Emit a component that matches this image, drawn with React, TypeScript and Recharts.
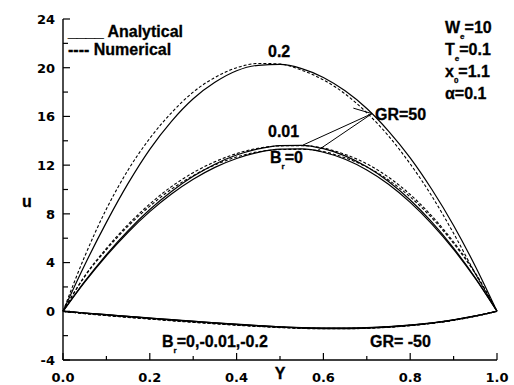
import { LineChart, Line, XAxis, YAxis, ReferenceLine } from "recharts";

// transverse coordinate Y
const yPos = [0, 0.05, 0.1, 0.15, 0.2, 0.25, 0.3, 0.35, 0.4, 0.45, 0.5, 0.55, 0.6, 0.65, 0.7, 0.75, 0.8, 0.85, 0.9, 0.95, 1];

// GR = 50
const gr50Br02Ana = [0, 3.8, 7.3, 10.5, 13.3, 15.6, 17.45, 18.8, 19.75, 20.2, 20.27, 19.93, 19.2, 18.1, 16.65, 14.8, 12.6, 10.0, 7.05, 3.7, 0];
const gr50Br02Num = [0, 4.5, 8.4, 11.6, 14.2, 16.3, 18.0, 19.2, 20.0, 20.35, 20.3, 19.8, 19.0, 17.85, 16.3, 14.4, 12.1, 9.45, 6.4, 3.1, 0];
const gr50Br001Ana = [0, 2.45, 4.66, 6.63, 8.36, 9.84, 11.08, 12.08, 12.83, 13.34, 13.61, 13.63, 13.35, 12.76, 11.86, 10.66, 9.14, 7.32, 5.19, 2.75, 0];
const gr50Br001Num = [0, 2.9, 5.16, 7.13, 8.81, 10.24, 11.38, 12.28, 12.95, 13.39, 13.58, 13.6, 13.4, 12.88, 12.11, 11.01, 9.59, 7.82, 5.69, 3.15, 0];
const gr50Br0Ana = [0, 2.4, 4.56, 6.49, 8.18, 9.63, 10.84, 11.82, 12.55, 13.05, 13.31, 13.33, 13.06, 12.48, 11.6, 10.43, 8.94, 7.16, 5.08, 2.69, 0];
const gr50Br0Num = [0, 2.85, 5.06, 6.99, 8.63, 10.03, 11.14, 12.02, 12.67, 13.1, 13.28, 13.3, 13.11, 12.6, 11.85, 10.78, 9.39, 7.66, 5.58, 3.09, 0];

// GR = -50
const grm50Br0Ana = [0, -0.14, -0.28, -0.42, -0.55, -0.68, -0.81, -0.94, -1.06, -1.17, -1.27, -1.34, -1.38, -1.38, -1.34, -1.26, -1.13, -0.95, -0.7, -0.38, 0];
const grm50Br001Ana = [0, -0.14, -0.28, -0.42, -0.56, -0.69, -0.82, -0.95, -1.07, -1.18, -1.28, -1.35, -1.39, -1.39, -1.35, -1.27, -1.14, -0.96, -0.71, -0.38, 0];
const grm50Br02Ana = [0, -0.15, -0.3, -0.44, -0.58, -0.72, -0.85, -0.98, -1.1, -1.21, -1.31, -1.38, -1.42, -1.42, -1.38, -1.3, -1.16, -0.97, -0.72, -0.39, 0];
const grm50Br0Num = [0, -0.18, -0.33, -0.48, -0.61, -0.74, -0.87, -0.99, -1.11, -1.21, -1.3, -1.37, -1.4, -1.4, -1.36, -1.28, -1.15, -0.97, -0.72, -0.4, 0];
const grm50Br001Num = [0, -0.18, -0.34, -0.49, -0.62, -0.75, -0.88, -1.0, -1.12, -1.22, -1.31, -1.38, -1.41, -1.41, -1.37, -1.29, -1.16, -0.98, -0.73, -0.4, 0];
const grm50Br02Num = [0, -0.19, -0.35, -0.5, -0.64, -0.78, -0.91, -1.03, -1.15, -1.25, -1.34, -1.41, -1.44, -1.44, -1.4, -1.32, -1.18, -0.99, -0.74, -0.41, 0];

const xTicks = [0, 0.1, 0.2, 0.3, 0.4, 0.5, 0.6, 0.7, 0.8, 0.9, 1];
const yTicks = [-4, -2, 0, 2, 4, 6, 8, 10, 12, 14, 16, 18, 20, 22, 24];

const series = [
  { key: "gr50Br02Ana", values: gr50Br02Ana, dashed: false },
  { key: "gr50Br02Num", values: gr50Br02Num, dashed: true },
  { key: "gr50Br001Ana", values: gr50Br001Ana, dashed: false },
  { key: "gr50Br001Num", values: gr50Br001Num, dashed: true },
  { key: "gr50Br0Ana", values: gr50Br0Ana, dashed: false },
  { key: "gr50Br0Num", values: gr50Br0Num, dashed: true },
  { key: "grm50Br0Ana", values: grm50Br0Ana, dashed: false },
  { key: "grm50Br001Ana", values: grm50Br001Ana, dashed: false },
  { key: "grm50Br02Ana", values: grm50Br02Ana, dashed: false },
  { key: "grm50Br0Num", values: grm50Br0Num, dashed: true },
  { key: "grm50Br001Num", values: grm50Br001Num, dashed: true },
  { key: "grm50Br02Num", values: grm50Br02Num, dashed: true },
];

const data = yPos.map((y, i) => {
  const row: Record<string, number> = { y };
  series.forEach((s) => (row[s.key] = s.values[i]));
  return row;
});

const FONT = "'Liberation Sans', Arial, sans-serif";
const TICK_FONT = "'DejaVu Sans', sans-serif";

const isMajorX = (v: number) => Math.round(v * 10) % 2 === 0;
const isMajorY = (v: number) => Math.round(v) % 4 === 0;

function BottomTick({ x, y, payload }: any) {
  const v = payload.value;
  const major = isMajorX(v);
  return (
    <g>
      <line x1={x} x2={x} y1={y} y2={y - (major ? 7 : 4)} stroke="#000" strokeWidth={1.2} />
      {major && (
        <text x={x} y={y + 22} textAnchor="middle" fontFamily={TICK_FONT} fontWeight="bold" fontSize={13} fill="#000">
          {v.toFixed(1)}
        </text>
      )}
    </g>
  );
}

function TopTick({ x, y, payload }: any) {
  const major = isMajorX(payload.value);
  return <line x1={x} x2={x} y1={y} y2={y + (major ? 7 : 4)} stroke="#000" strokeWidth={1.2} />;
}

function LeftTick({ x, y, payload }: any) {
  const v = payload.value;
  const major = isMajorY(v);
  return (
    <g>
      <line x1={x} x2={x + (major ? 7 : 5)} y1={y} y2={y} stroke="#000" strokeWidth={1.2} />
      {major && (
        <text x={x - 8} y={y + 4.8} textAnchor="end" fontFamily={TICK_FONT} fontWeight="bold" fontSize={13} fill="#000">
          {v}
        </text>
      )}
    </g>
  );
}

function RightTick({ x, y, payload }: any) {
  const major = isMajorY(payload.value);
  return <line x1={x} x2={x - (major ? 7 : 5)} y1={y} y2={y} stroke="#000" strokeWidth={1.2} />;
}

const txt = { fontFamily: FONT, fontWeight: 700, fontSize: 16, fill: "#000", stroke: "#000", strokeWidth: 0.3 };

export default function App() {
  return (
    <div style={{ position: "relative", width: 514, height: 385, background: "#fff" }}>
      <style>{"body{margin:0}"}</style>
      <LineChart width={514} height={385} data={data} margin={{ top: 19, right: 17, bottom: 0, left: 13 }}>
        <XAxis
          dataKey="y"
          type="number"
          domain={[0, 1]}
          ticks={xTicks}
          height={25}
          tickSize={0}
          tickMargin={0}
          tickLine={false}
          interval={0}
          axisLine={{ stroke: "#000", strokeWidth: 1.4 }}
          tick={<BottomTick />}
        />
        <XAxis
          xAxisId="top"
          orientation="top"
          dataKey="y"
          type="number"
          domain={[0, 1]}
          ticks={xTicks}
          height={0}
          tickSize={0}
          tickMargin={0}
          tickLine={false}
          interval={0}
          axisLine={{ stroke: "#000", strokeWidth: 1.4 }}
          tick={<TopTick />}
        />
        <YAxis
          type="number"
          domain={[-4, 24]}
          ticks={yTicks}
          width={50}
          tickSize={0}
          tickMargin={0}
          tickLine={false}
          interval={0}
          axisLine={{ stroke: "#000", strokeWidth: 1.4 }}
          tick={<LeftTick />}
        />
        <YAxis
          yAxisId="right"
          orientation="right"
          type="number"
          domain={[-4, 24]}
          ticks={yTicks}
          width={0}
          tickSize={0}
          tickMargin={0}
          tickLine={false}
          interval={0}
          axisLine={{ stroke: "#000", strokeWidth: 1.4 }}
          tick={<RightTick />}
        />
        {series.map((s) => (
          <Line
            key={s.key}
            dataKey={s.key}
            type="monotone"
            stroke="#000"
            strokeWidth={s.dashed ? 1.1 : 1.2}
            strokeDasharray={s.dashed ? "3 2" : undefined}
            dot={false}
            activeDot={false}
            isAnimationActive={false}
          />
        ))}
        <ReferenceLine segment={[{ x: 0.712, y: 16.23 }, { x: 0.669, y: 16.68 }]} stroke="#000" strokeWidth={1} />
        <ReferenceLine segment={[{ x: 0.712, y: 16.23 }, { x: 0.553, y: 13.65 }]} stroke="#000" strokeWidth={1} />
        <ReferenceLine segment={[{ x: 0.712, y: 16.23 }, { x: 0.585, y: 13.16 }]} stroke="#000" strokeWidth={1} />
      </LineChart>
      <svg width={514} height={385} style={{ position: "absolute", left: 0, top: 0, pointerEvents: "none" }}>
        <text x={68} y={37} {...txt}>____ Analytical</text>
        <text x={68} y={55} {...txt}>---- Numerical</text>
        <text x={268} y={57} {...txt}>0.2</text>
        <text x={268} y={137} {...txt}>0.01</text>
        <text x={270} y={163} {...txt}>
          B<tspan fontSize={8} dy={6}>r</tspan>
          <tspan dy={-6}>=0</tspan>
        </text>
        <text x={375} y={120} {...txt}>GR=50</text>
        <text x={445} y={33} {...txt}>
          W<tspan fontSize={8} dy={6}>e</tspan>
          <tspan dy={-6}>=10</tspan>
        </text>
        <text x={445} y={55} {...txt}>
          T<tspan fontSize={8} dy={6}>e</tspan>
          <tspan dy={-6}>=0.1</tspan>
        </text>
        <text x={445} y={77} {...txt}>
          x<tspan fontSize={8} dy={6}>0</tspan>
          <tspan dy={-6}>=1.1</tspan>
        </text>
        <text x={445} y={99} {...txt}>α=0.1</text>
        <text x={162} y={347} {...txt}>
          B<tspan fontSize={8} dy={6}>r</tspan>
          <tspan dy={-6}>=0,-0.01,-0.2</tspan>
        </text>
        <text x={370} y={347} {...txt}>GR= -50</text>
        <text x={280} y={379} textAnchor="middle" {...txt}>Y</text>
        <text x={27} y={207} textAnchor="middle" {...txt}>u</text>
      </svg>
    </div>
  );
}
